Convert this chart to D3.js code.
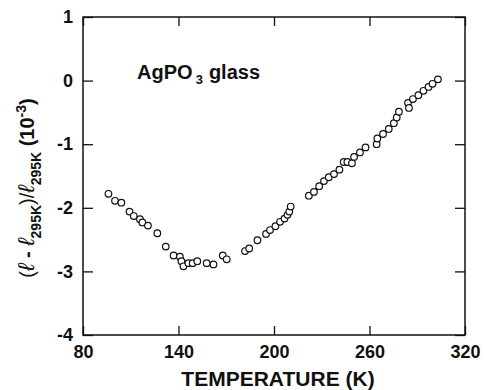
<!DOCTYPE html>
<html>
<head>
<meta charset="utf-8">
<script src="https://cdn.jsdelivr.net/npm/d3@7"></script>
<style>
  body { margin: 0; background: #fff; }
  svg text { font-family: "Liberation Sans", Arial, Helvetica, sans-serif; font-weight: bold; fill: #111; }
</style>
</head>
<body>
<div id="chart"></div>
<script>
// data: temperature (K) and relative length change (10^-3)
var temps = [96.0, 100.1, 104.1, 109.2, 111.9, 115.8, 117.3, 120.8, 126.7, 132.0,
  136.9, 140.9, 141.8, 143.1, 146.2, 148.9, 151.8, 157.7, 162.0, 167.8,
  170.3, 181.8, 184.4, 189.6, 195.0, 197.5, 200.9, 203.8, 206.6, 208.5,
  209.6, 210.5, 221.9, 225.1, 228.4, 231.4, 234.4, 237.7, 241.1, 243.8,
  246.1, 249.0, 250.3, 254.0, 257.5, 264.5, 264.9, 268.5, 272.1, 275.3,
  277.1, 278.5, 284.2, 284.8, 287.3, 290.7, 293.9, 297.1, 299.6, 303.0];
var strain = [-1.78, -1.89, -1.92, -2.06, -2.13, -2.18, -2.23, -2.28, -2.40, -2.61,
  -2.75, -2.77, -2.84, -2.92, -2.87, -2.87, -2.84, -2.87, -2.89, -2.75,
  -2.81, -2.68, -2.64, -2.51, -2.41, -2.35, -2.29, -2.22, -2.17, -2.11,
  -2.06, -1.98, -1.81, -1.75, -1.66, -1.58, -1.52, -1.47, -1.40, -1.28,
  -1.28, -1.30, -1.20, -1.13, -1.05, -1.00, -0.91, -0.84, -0.76, -0.67,
  -0.58, -0.49, -0.35, -0.43, -0.29, -0.23, -0.16, -0.10, -0.05, 0.02];
var xTicks = [80, 140, 200, 260, 320];
var yTicks = [-4, -3, -2, -1, 0, 1];

var W = 484, H = 390;
var margin = {top: 17, right: 19, bottom: 55, left: 83};
var width = W - margin.left - margin.right,
    height = H - margin.top - margin.bottom;

var svg = d3.select("#chart").append("svg")
  .attr("width", W).attr("height", H);
var g = svg.append("g")
  .attr("transform", "translate(" + margin.left + "," + margin.top + ")");

var x = d3.scaleLinear().domain([80, 320]).range([0, width]);
var y = d3.scaleLinear().domain([-4, 1]).range([height, 0]);

// plain hyphen for negatives, like the original
var fmt = function(d) { return String(d); };

// inward ticks on all four sides
function styleAxis(sel) {
  sel.select(".domain").remove();
  sel.selectAll(".tick line").attr("stroke", "#111").attr("stroke-width", 1.3);
}
g.append("g").attr("transform", "translate(0," + height + ")")
  .call(d3.axisBottom(x).tickValues(xTicks).tickSize(-9).tickPadding(10).tickFormat(fmt))
  .call(styleAxis)
  .selectAll("text").attr("font-size", 18).attr("fill", "#111");
g.append("g")
  .call(d3.axisTop(x).tickValues(xTicks).tickSize(-9).tickFormat(""))
  .call(styleAxis);
g.append("g")
  .call(d3.axisLeft(y).tickValues(yTicks).tickSize(-10).tickPadding(10).tickFormat(fmt))
  .call(styleAxis)
  .selectAll("text").attr("font-size", 18).attr("fill", "#111");
g.append("g").attr("transform", "translate(" + width + ",0)")
  .call(d3.axisRight(y).tickValues(yTicks).tickSize(-10).tickFormat(""))
  .call(styleAxis);

// frame
g.append("rect")
  .attr("width", width).attr("height", height)
  .attr("fill", "none").attr("stroke", "#111").attr("stroke-width", 1.5);

// points
var pts = temps.map(function(t, i) { return {t: t, v: strain[i]}; });
g.selectAll(".pt")
  .data(pts)
  .enter().append("circle")
  .attr("class", "pt")
  .attr("cx", function(d) { return x(d.t); })
  .attr("cy", function(d) { return y(d.v); })
  .attr("r", 3.3)
  .attr("fill", "#fff")
  .attr("stroke", "#111")
  .attr("stroke-width", 1.2);

// sample label
var lab = g.append("text")
  .attr("x", x(114)).attr("y", y(0) - 2)
  .attr("font-size", 20);
lab.append("tspan").text("AgPO");
lab.append("tspan").attr("font-size", 13).attr("dx", 3).attr("dy", 5).text("3");
lab.append("tspan").attr("dy", -5).attr("dx", 6).text("glass");

// x title
svg.append("text")
  .attr("x", margin.left + width / 2 + 4).attr("y", 386)
  .attr("text-anchor", "middle")
  .attr("font-size", 21)
  .text("TEMPERATURE (K)");

// y title
var yl = svg.append("text")
  .attr("transform", "translate(34,188) rotate(-90)")
  .attr("text-anchor", "middle")
  .attr("font-size", 20);
yl.append("tspan").attr("font-weight", "normal").text("(");
yl.append("tspan").attr("font-style", "italic").attr("font-weight", "normal").attr("font-size", 23).text("\u2113");
yl.append("tspan").text(" - ");
yl.append("tspan").attr("font-style", "italic").attr("font-weight", "normal").attr("font-size", 23).text("\u2113");
yl.append("tspan").attr("font-size", 14).attr("dy", 7).text("295K");
yl.append("tspan").attr("font-weight", "normal").attr("dy", -7).text(")/");
yl.append("tspan").attr("font-style", "italic").attr("font-weight", "normal").attr("font-size", 23).text("\u2113");
yl.append("tspan").attr("font-size", 14).attr("dy", 7).text("295K");
yl.append("tspan").attr("dy", -7).text(" (10");
yl.append("tspan").attr("font-size", 14).attr("dy", -8).text("-3");
yl.append("tspan").attr("dy", 8).text(")");
</script>
</body>
</html>
